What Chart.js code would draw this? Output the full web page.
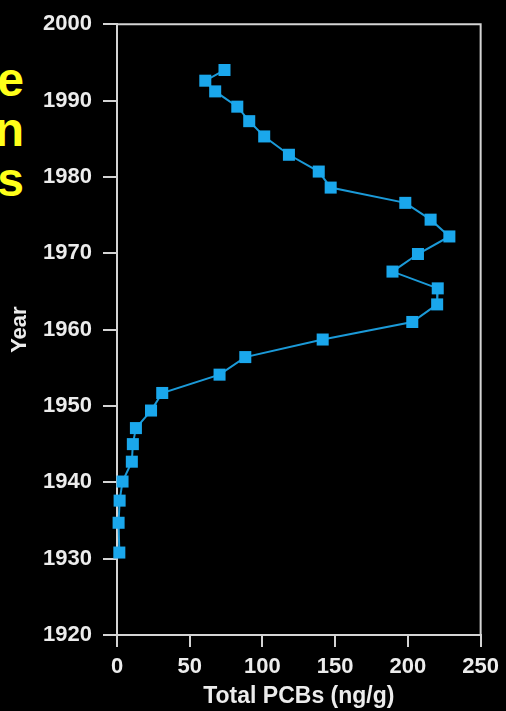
<!DOCTYPE html>
<html>
<head>
<meta charset="utf-8">
<script src="https://cdn.jsdelivr.net/npm/chart.js@4"></script>
<style>
  html, body { margin: 0; padding: 0; background: #000; }
  body { width: 506px; height: 711px; position: relative; overflow: hidden; }
  #wrap { position: absolute; left: 0; top: 0; width: 506px; height: 711px; }
  #side {
    position: absolute; left: -100px; top: 55px; width: 124px;
    text-align: right; color: #ffff1a;
    font: bold 48px "Liberation Sans", Arial, sans-serif; line-height: 50px;
  }
</style>
</head>
<body>
<div id="side">e<br>n<br>s</div>
<div id="wrap"><canvas id="pcbChart"></canvas></div>
<script>
// values
const pcbValues = [73.9, 60.7, 67.5, 82.7, 90.9, 101.2, 118.2, 138.7, 146.9, 198.2,
                   215.6, 228.5, 206.9, 189.4, 220.5, 220.1, 203.0, 141.4, 88.2, 70.5,
                   31.1, 23.4, 13.0, 10.9, 10.2, 3.8, 1.8, 1.1, 1.6];
const years = [1994.0, 1992.6, 1991.2, 1989.2, 1987.3, 1985.3, 1982.9, 1980.7, 1978.6, 1976.6,
               1974.4, 1972.2, 1969.9, 1967.6, 1965.4, 1963.3, 1961.0, 1958.7, 1956.4, 1954.1,
               1951.7, 1949.4, 1947.1, 1945.0, 1942.7, 1940.1, 1937.6, 1934.7, 1930.8];
const xTicks = [0, 50, 100, 150, 200, 250];
const yTicks = [1920, 1930, 1940, 1950, 1960, 1970, 1980, 1990, 2000];

const axisColor = '#d4d4d4';
const textColor = '#ececec';
const labelFont = { family: '"Liberation Sans", Arial, sans-serif', size: 22, weight: 'bold', lineHeight: 1.2 };

// top and right edges of the plot box
const frame = {
    id: 'frame',
    afterDraw(chart) {
        const { ctx, chartArea: a } = chart;
        ctx.save();
        ctx.strokeStyle = axisColor;
        ctx.lineWidth = 2;
        ctx.beginPath();
        ctx.moveTo(a.left, a.top);
        ctx.lineTo(a.right, a.top);
        ctx.lineTo(a.right, a.bottom);
        ctx.stroke();
        ctx.restore();
    }
};

document.addEventListener('DOMContentLoaded', () => {
    const ctx = document.getElementById('pcbChart');
    new Chart(ctx, {
        type: 'scatter',
        data: {
            datasets: [{
                label: 'Total PCBs',
                data: pcbValues.map((v, i) => ({ x: v, y: years[i] })),
                showLine: true,
                clip: false,
                borderColor: '#1b9ad8',
                borderWidth: 2,
                backgroundColor: '#1aa7ec',
                pointStyle: 'rect',
                pointRadius: 8.5,
                pointHoverRadius: 8.5,
                pointBorderWidth: 0
            }]
        },
        options: {
            responsive: true,
            maintainAspectRatio: false,
            animation: false,
            layout: { padding: { top: 23, right: 24, left: 0, bottom: 0 } },
            plugins: { legend: { display: false }, tooltip: { enabled: false } },
            scales: {
                x: {
                    type: 'linear',
                    min: 0, max: 250,
                    afterBuildTicks: s => { s.ticks = xTicks.map(v => ({ value: v })); },
                    afterFit: s => { s.height = 76; },
                    grid: { drawOnChartArea: false, tickLength: 12, color: axisColor, lineWidth: 2 },
                    border: { color: axisColor, width: 2 },
                    ticks: { color: textColor, font: labelFont, padding: 7, maxRotation: 0 },
                    title: { display: true, text: 'Total PCBs (ng/g)', color: textColor, font: { ...labelFont, size: 23 }, padding: { top: 0, bottom: 1 } }
                },
                y: {
                    type: 'linear',
                    min: 1920, max: 2000,
                    afterBuildTicks: s => { s.ticks = yTicks.map(v => ({ value: v })); },
                    afterFit: s => { s.width = 117; },
                    grid: { drawOnChartArea: false, tickLength: 14, color: axisColor, lineWidth: 2 },
                    border: { color: axisColor, width: 2 },
                    ticks: { color: textColor, font: labelFont, padding: 11, callback: v => String(v) },
                    title: { display: true, text: 'Year', color: textColor, font: { ...labelFont, size: 22 }, padding: { top: 7, bottom: 0 } }
                }
            }
        },
        plugins: [frame]
    });
});
</script>
</body>
</html>
